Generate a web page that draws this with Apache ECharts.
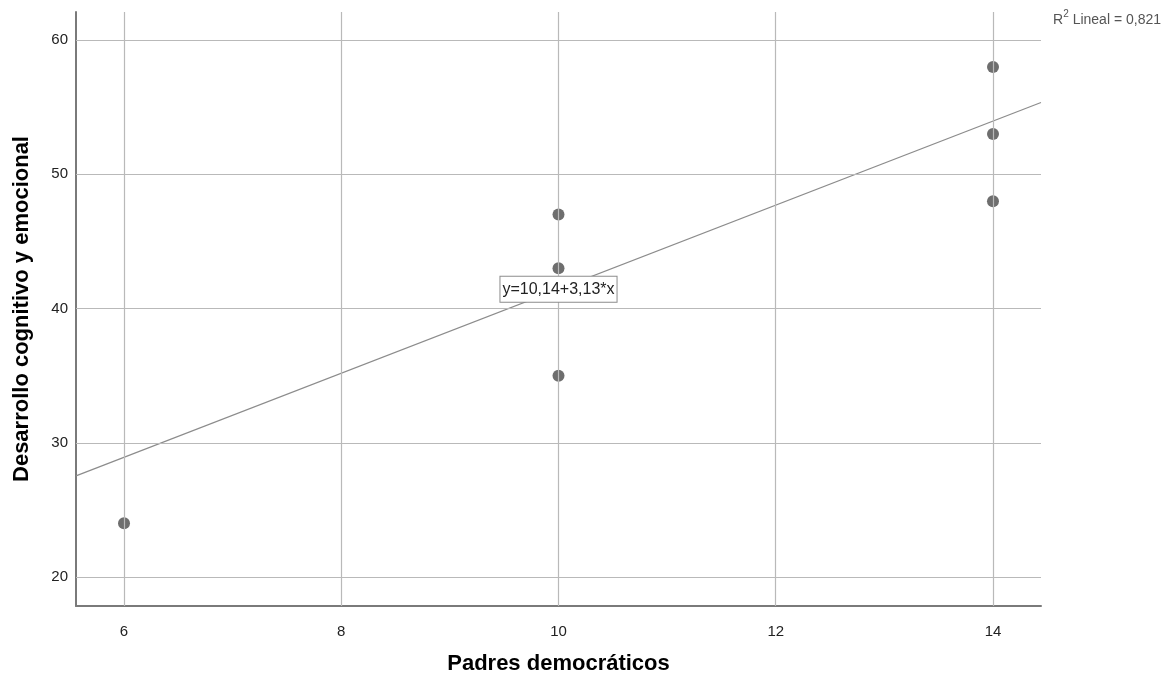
<!DOCTYPE html>
<html>
<head>
<meta charset="utf-8">
<script src="https://cdn.jsdelivr.net/npm/echarts@6/dist/echarts.min.js"></script>
<style>html,body{margin:0;padding:0;background:#fff}#c{width:1163px;height:675px}</style>
</head>
<body>
<div id="c"></div>
<script>
const xValues = [6, 10, 10, 10, 14, 14, 14];
const yValues = [24, 47, 43, 35, 58, 53, 48];
const xTicks = [6, 8, 10, 12, 14];
const yTicks = [20, 30, 40, 50, 60];
const X_MIN = 5.558, X_MAX = 14.442;
const Y_MIN = 17.84, Y_MAX = 62.09;
const INTERCEPT = 10.14, SLOPE = 3.13;
const EQ_LABEL = 'y=10,14+3,13*x';
const R2_TEXT = '0,821';
const xName = 'Padres democráticos';
const yName = 'Desarrollo cognitivo y emocional';

const points = xValues.map((x, i) => [x, yValues[i]]);
const fitLine = [[X_MIN, INTERCEPT + SLOPE * X_MIN], [X_MAX, INTERCEPT + SLOPE * X_MAX]];
const gridLines = xTicks.map(v => ({xAxis: v})).concat(yTicks.map(v => ({yAxis: v})));
const FONT = '"Liberation Sans", Arial, sans-serif';

const chart = echarts.init(document.getElementById('c'), null, {renderer: 'canvas'});
chart.setOption({
  animation: false,
  backgroundColor: '#fff',
  grid: {left: 76, top: 12, right: 122, bottom: 69, containLabel: false, outerBoundsMode: 'none'},
  xAxis: {
    type: 'value', min: X_MIN, max: X_MAX,
    name: xName, nameLocation: 'middle', nameGap: 47,
    nameTextStyle: {fontFamily: FONT, fontSize: 22, fontWeight: 'bold', color: '#000'},
    axisLine: {show: true, lineStyle: {color: '#7a7a7a', width: 2}},
    axisTick: {show: false},
    splitLine: {show: false},
    axisLabel: {customValues: xTicks, fontFamily: FONT, fontSize: 15, color: '#222', margin: 18}
  },
  yAxis: {
    type: 'value', min: Y_MIN, max: Y_MAX,
    name: yName, nameLocation: 'middle', nameGap: 43, nameRotate: 90,
    nameTextStyle: {fontFamily: FONT, fontSize: 22, fontWeight: 'bold', color: '#000'},
    axisLine: {show: true, lineStyle: {color: '#7a7a7a', width: 2}},
    axisTick: {show: false},
    splitLine: {show: false},
    axisLabel: {customValues: yTicks, fontFamily: FONT, fontSize: 15, color: '#222', margin: 8}
  },
  series: [
    {
      type: 'line', data: [], silent: true,
      markLine: {
        silent: true, symbol: 'none', label: {show: false},
        lineStyle: {color: '#b9b9b9', width: 1.2, type: 'solid'},
        emphasis: {disabled: true},
        data: gridLines
      }
    },
    {
      type: 'line', data: fitLine, showSymbol: false, symbol: 'none', silent: true,
      lineStyle: {color: '#8c8c8c', width: 1.2},
      markPoint: {
        symbol: 'rect', symbolSize: 0, silent: true,
        data: [{coord: [10, INTERCEPT + SLOPE * 10]}],
        label: {
          show: true, formatter: EQ_LABEL, position: 'inside',
          fontFamily: FONT, fontSize: 16, color: '#222',
          backgroundColor: '#fff', borderColor: '#8c8c8c', borderWidth: 1,
          padding: [5, 2, 4, 2]
        }
      }
    },
    {
      type: 'scatter', data: points, symbolSize: 12,
      itemStyle: {color: '#6e6e6e', opacity: 1}
    }
  ],
  graphic: [{
    type: 'text', right: 2, top: 9,
    style: {
      text: '{r|R}{sup|2}{n| Lineal = ' + R2_TEXT + '}',
      rich: {
        r: {fontFamily: FONT, fontSize: 14, fill: '#555', verticalAlign: 'bottom', lineHeight: 18},
        sup: {fontFamily: FONT, fontSize: 10, fill: '#555', verticalAlign: 'top', lineHeight: 18},
        n: {fontFamily: FONT, fontSize: 14, fill: '#555', verticalAlign: 'bottom', lineHeight: 18}
      }
    }
  }]
});
</script>
</body>
</html>
